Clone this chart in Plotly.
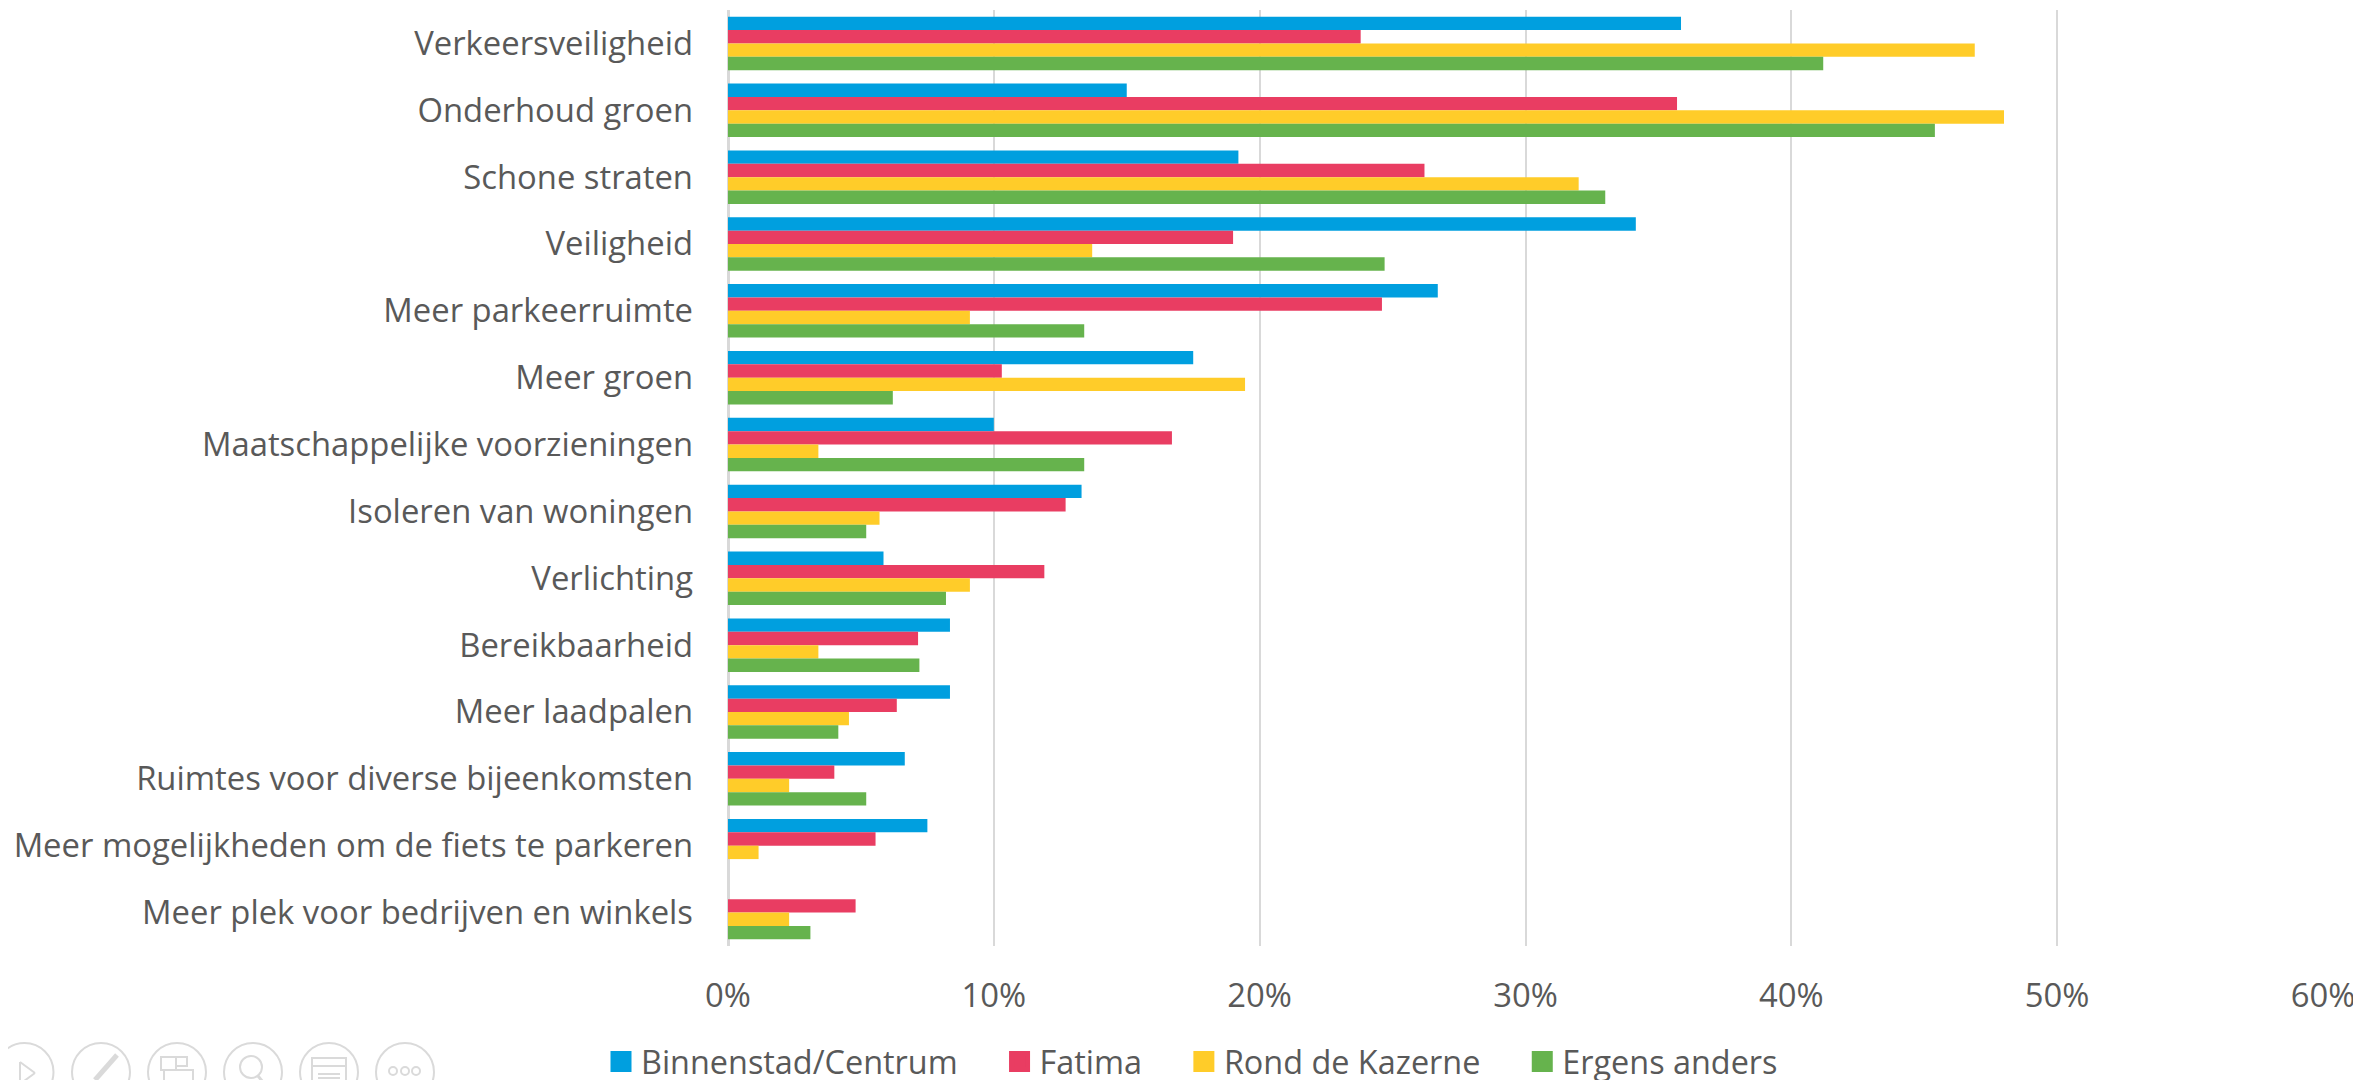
import plotly.graph_objects as go

categories = ["Verkeersveiligheid", "Onderhoud groen", "Schone straten", "Veiligheid",
              "Meer parkeerruimte", "Meer groen", "Maatschappelijke voorzieningen",
              "Isoleren van woningen", "Verlichting", "Bereikbaarheid", "Meer laadpalen",
              "Ruimtes voor diverse bijeenkomsten",
              "Meer mogelijkheden om de fiets te parkeren",
              "Meer plek voor bedrijven en winkels"]
binnenstad = [35.85, 15.0, 19.2, 34.15, 26.7, 17.5, 10.0, 13.3, 5.85, 8.35, 8.35, 6.65, 7.5, 0]
fatima = [23.8, 35.7, 26.2, 19.0, 24.6, 10.3, 16.7, 12.7, 11.9, 7.15, 6.35, 4.0, 5.55, 4.8]
kazerne = [46.9, 48.0, 32.0, 13.7, 9.1, 19.45, 3.4, 5.7, 9.1, 3.4, 4.55, 2.3, 1.15, 2.3]
anders = [41.2, 45.4, 33.0, 24.7, 13.4, 6.2, 13.4, 5.2, 8.2, 7.2, 4.15, 5.2, 0, 3.1]
series = [("Binnenstad/Centrum", binnenstad, "#009FDF"),
          ("Fatima", fatima, "#E93D62"),
          ("Rond de Kazerne", kazerne, "#FFCC29"),
          ("Ergens anders", anders, "#66B34D")]
tick_vals = [0, 10, 20, 30, 40, 50, 60]

W, H = 2353, 1072
L, R, T, B = 720, 38, 2, 134
FONT = "Open Sans"
TXT = "#595959"
ICON = "#DADADA"

fig = go.Figure()
for name, vals, col in series:
    fig.add_trace(go.Bar(y=categories, x=vals, name=name, orientation="h",
                         marker=dict(color=col, line=dict(width=0)),
                         legendgroup=name, showlegend=False))
gap = "\u00a0" * 4 + "\u200a"
pads = [gap, gap, gap, ""]
for (name, vals, col), pad in zip(series, pads):
    fig.add_trace(go.Scatter(x=[None], y=[None], mode="markers", name=name + pad,
                             legendgroup=name, showlegend=True,
                             marker=dict(symbol="square", size=16, color=col,
                                         line=dict(color=col, width=5))))

def px(x): return (x - 8 - L) / (W - L - R)
def py(y): return 1 - (y - 8 - T) / (H - T - B)

def deco(kind, x0, y0, x1, y1, width=2, color=ICON):
    return dict(type=kind, xref="paper", yref="paper",
                x0=px(x0), x1=px(x1), y0=py(y0), y1=py(y1),
                line=dict(color=color, width=width))

shapes = []
# faint presentation toolbar in the lower left corner
for cx in [24.5, 101, 177, 253, 329, 405]:
    shapes.append(deco("circle", cx - 29, 1072 - 29, cx + 29, 1072 + 29))
shapes += [deco("line", 20, 1062, 35, 1073), deco("line", 35, 1073, 20, 1084), deco("line", 20, 1062, 20, 1084),
           deco("line", 117, 1055, 95, 1080, width=5),
           deco("rect", 161, 1057, 176, 1070), deco("rect", 176, 1057, 187, 1066),
           deco("rect", 164, 1070, 193, 1090),
           deco("circle", 240, 1056, 262, 1078), deco("line", 258, 1076, 268, 1088, width=3),
           deco("rect", 312, 1058, 346, 1090), deco("line", 312, 1066, 346, 1066),
           deco("line", 318, 1074, 340, 1074), deco("line", 318, 1078, 340, 1078),
           deco("circle", 389, 1067, 397, 1075), deco("circle", 401, 1067, 409, 1075),
           deco("circle", 412, 1067, 420, 1075)]

fig.update_layout(
    width=W, height=H, margin=dict(l=L, r=R, t=T, b=B, pad=0, autoexpand=False),
    paper_bgcolor="white", plot_bgcolor="white",
    font=dict(family=FONT, size=32.8, color=TXT),
    barmode="group", bargap=0.2, bargroupgap=0,
    shapes=shapes,
    showlegend=True,
    legend=dict(orientation="h", x=px(601), y=py(1034), xanchor="left", yanchor="top",
                font=dict(family=FONT, size=32.4, color=TXT), bgcolor="rgba(0,0,0,0)",
                itemclick=False, tracegroupgap=0),
    xaxis=dict(range=[0, 60], tickvals=tick_vals, ticktext=[f"{v}%" for v in tick_vals],
               showgrid=True, gridcolor="#D9D9D9", gridwidth=2,
               zeroline=True, zerolinecolor="#D9D9D9", zerolinewidth=3,
               showline=False, ticks="", ticklabelstandoff=27, automargin=False),
    yaxis=dict(type="category", categoryorder="array", categoryarray=categories,
               autorange="reversed", showgrid=False, showline=False, ticks="",
               ticklabelstandoff=34, automargin=False),
)
fig.write_html("out.html")
